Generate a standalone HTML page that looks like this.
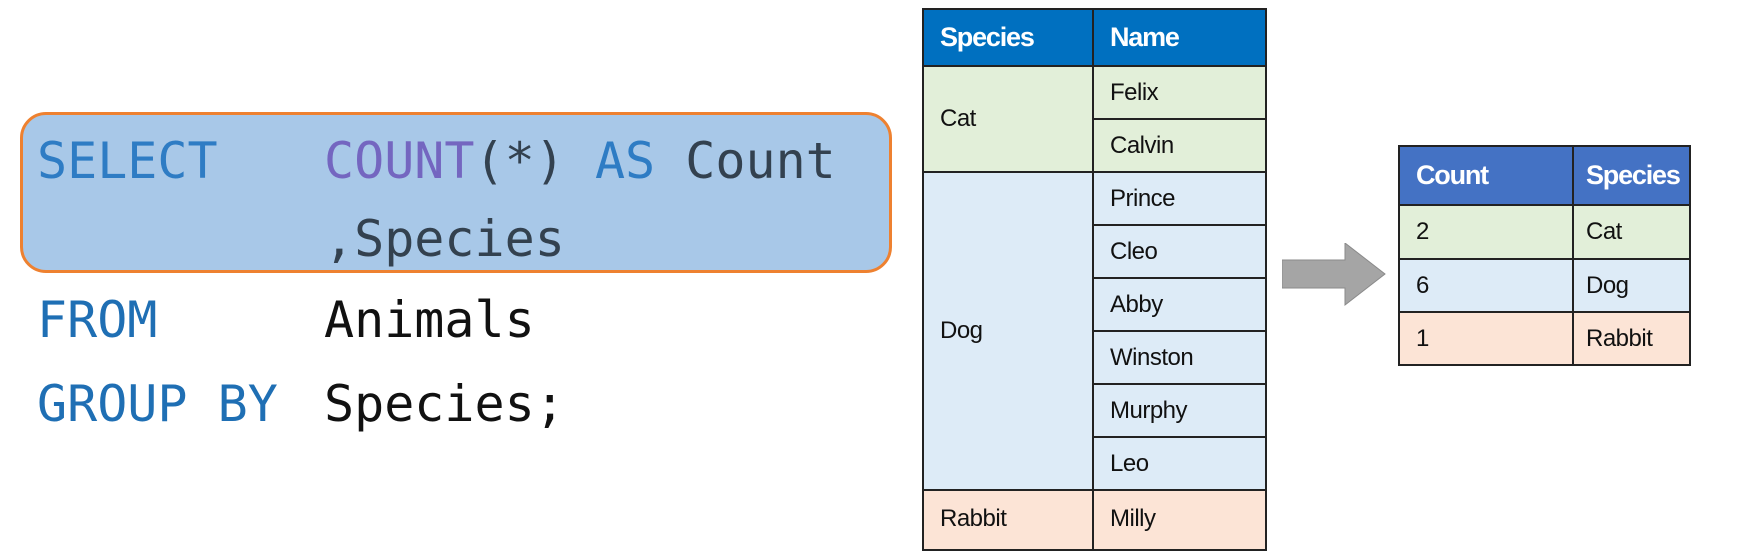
<!DOCTYPE html>
<html><head><meta charset="utf-8">
<style>
body{margin:0;width:1752px;height:532px;background:#fff;position:relative;overflow:hidden;font-family:"Liberation Sans",sans-serif}
.sql{position:absolute;font-family:"DejaVu Sans Mono","Liberation Mono",monospace;font-size:50px;line-height:1;white-space:pre}
.box{position:absolute;left:20px;top:112px;width:872px;height:161px;background:#a8c8e8;border:3px solid #ee8130;border-radius:26px;box-sizing:border-box}
table{position:absolute;border-collapse:collapse;font-family:"Liberation Sans",sans-serif;font-size:24px;color:#111;letter-spacing:-0.5px}
td,th{border:2px solid #222;padding:0 0 0 16px;text-align:left;vertical-align:middle;white-space:nowrap}
th{color:#fff;font-weight:bold;font-size:27px;letter-spacing:-1.2px}
.g{background:#e2efd9}.b{background:#ddebf7}.p{background:#fce4d6}
</style></head><body>
<div class="box"></div>
<div class="sql" style="left:37px;top:136px;color:#2e7cc4">SELECT</div>
<div class="sql" style="left:324px;top:136px"><span style="color:#7466c0">COUNT</span><span style="color:#33414f">(*) </span><span style="color:#2e7cc4">AS</span><span style="color:#33414f"> Count</span></div>
<div class="sql" style="left:324px;top:214px;color:#33414f">,Species</div>
<div class="sql" style="left:37px;top:295px;color:#1f6fb4">FROM</div>
<div class="sql" style="left:324px;top:295px;color:#111">Animals</div>
<div class="sql" style="left:37px;top:379px;color:#1f6fb4">GROUP BY</div>
<div class="sql" style="left:324px;top:379px;color:#111">Species;</div>

<table style="left:922px;top:8px;width:345px">
<tr style="height:57px;background:#0070c0"><th style="width:152px">Species</th><th>Name</th></tr>
<tr style="height:53px"><td class="g" rowspan="2">Cat</td><td class="g">Felix</td></tr>
<tr style="height:53px"><td class="g">Calvin</td></tr>
<tr style="height:53px"><td class="b" rowspan="6">Dog</td><td class="b">Prince</td></tr>
<tr style="height:53px"><td class="b">Cleo</td></tr>
<tr style="height:53px"><td class="b">Abby</td></tr>
<tr style="height:53px"><td class="b">Winston</td></tr>
<tr style="height:53px"><td class="b">Murphy</td></tr>
<tr style="height:53px"><td class="b">Leo</td></tr>
<tr style="height:60px"><td class="p" style="vertical-align:top;padding-top:14px">Rabbit</td><td class="p" style="vertical-align:top;padding-top:14px">Milly</td></tr>
</table>

<svg style="position:absolute;left:1282px;top:243px" width="104" height="64"><polygon points="0,17 63,17 63,0 103,31 63,62 63,45 0,45" fill="#a5a5a5" stroke="#8a8a8a" stroke-width="1"/></svg>

<table style="left:1398px;top:145px;width:293px;table-layout:fixed">
<tr style="height:59px;background:#4472c4"><th style="width:156px">Count</th><th style="padding-left:12px">Species</th></tr>
<tr style="height:54px"><td class="g">2</td><td class="g" style="padding-left:12px">Cat</td></tr>
<tr style="height:53px"><td class="b">6</td><td class="b" style="padding-left:12px">Dog</td></tr>
<tr style="height:53px"><td class="p">1</td><td class="p" style="padding-left:12px">Rabbit</td></tr>
</table>
</body></html>
